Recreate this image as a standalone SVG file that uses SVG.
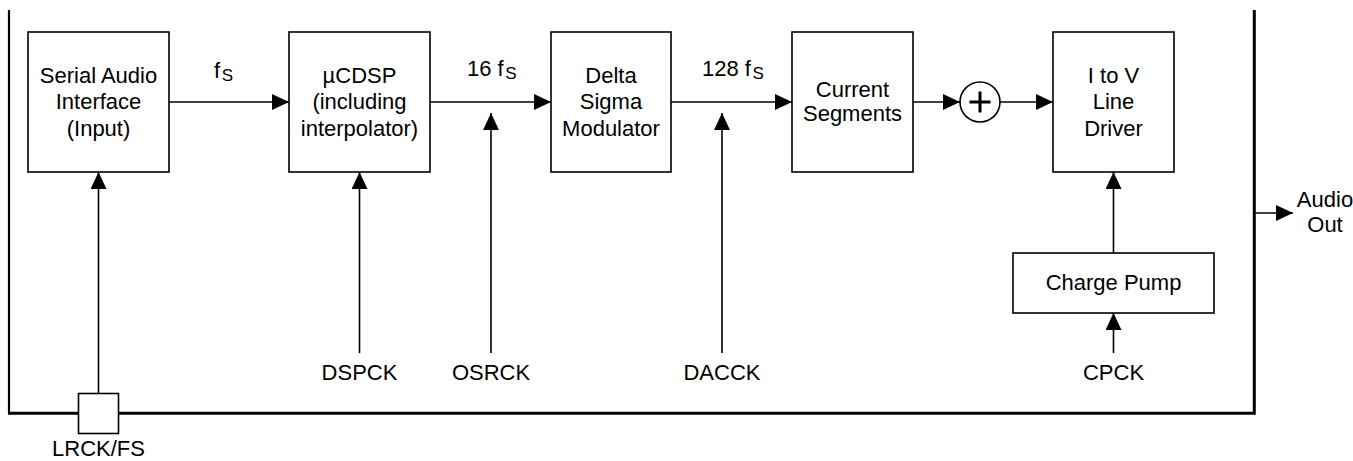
<svg xmlns="http://www.w3.org/2000/svg" width="1353" height="461" viewBox="0 0 1353 461">
<style>
text{font-family:"Liberation Sans",Arial,sans-serif;font-size:22px;fill:#000}
.c{text-anchor:middle}
.sub{font-size:17px}
.box{fill:#fff;stroke:#000;stroke-width:1.6}
.ln{stroke:#000;stroke-width:1.6;fill:none}
.border{stroke:#000;fill:none}
</style>
<defs>
<marker id="ah" markerUnits="userSpaceOnUse" markerWidth="17" markerHeight="16" refX="17" refY="8" orient="auto">
<path d="M0,0 L17,8 L0,16 z" fill="#000"/>
</marker>
</defs>
<g id="border">
<line class="border" x1="9" y1="10" x2="9" y2="413" stroke-width="2.2"/>
<path class="border" d="M8,413.3 H1254.3 V10" stroke-width="3"/>
</g>
<g id="connectors">
<line class="ln" x1="169" y1="102" x2="289" y2="102" marker-end="url(#ah)"/>
<line class="ln" x1="430" y1="102" x2="551" y2="102" marker-end="url(#ah)"/>
<line class="ln" x1="671" y1="102" x2="792" y2="102" marker-end="url(#ah)"/>
<line class="ln" x1="913" y1="102" x2="960" y2="102" marker-end="url(#ah)"/>
<line class="ln" x1="1000" y1="102" x2="1053" y2="102" marker-end="url(#ah)"/>
<line class="ln" x1="98.5" y1="393" x2="98.5" y2="172" marker-end="url(#ah)"/>
<line class="ln" x1="359.5" y1="353" x2="359.5" y2="172" marker-end="url(#ah)"/>
<line class="ln" x1="491" y1="353" x2="491" y2="113" marker-end="url(#ah)"/>
<line class="ln" x1="722" y1="353" x2="722" y2="113" marker-end="url(#ah)"/>
<line class="ln" x1="1113.5" y1="253" x2="1113.5" y2="172" marker-end="url(#ah)"/>
<line class="ln" x1="1113.5" y1="353" x2="1113.5" y2="313" marker-end="url(#ah)"/>
<line class="ln" x1="1254" y1="213" x2="1293" y2="213" marker-end="url(#ah)"/>
<text x="214" y="78">f<tspan class="sub" dx="1.5" dy="2.5">S</tspan></text>
<text x="467" y="76">16 f<tspan class="sub" dx="1.5" dy="2.5">S</tspan></text>
<text x="702" y="76">128 f<tspan class="sub" dx="1.5" dy="2.5">S</tspan></text>
</g>
<g id="serial">
<rect class="box" x="28" y="32" width="141" height="140"/>
<text class="c" x="98.5" y="82.5">Serial Audio</text>
<text class="c" x="98.5" y="109">Interface</text>
<text class="c" x="98.5" y="135.5">(Input)</text>
</g>
<g id="ucdsp">
<rect class="box" x="289" y="32" width="141" height="140"/>
<text class="c" x="359.5" y="82.5">µCDSP</text>
<text class="c" x="359.5" y="109">(including</text>
<text class="c" x="359.5" y="135.5">interpolator)</text>
</g>
<g id="dsm">
<rect class="box" x="551" y="32" width="120" height="140"/>
<text class="c" x="611" y="82.5">Delta</text>
<text class="c" x="611" y="109">Sigma</text>
<text class="c" x="611" y="135.5">Modulator</text>
</g>
<g id="segments">
<rect class="box" x="792" y="32" width="121" height="140"/>
<text class="c" x="852.5" y="96.5">Current</text>
<text class="c" x="852.5" y="121">Segments</text>
</g>
<g id="sum">
<circle cx="980" cy="102" r="20" fill="#fff" stroke="#000" stroke-width="1.6"/>
<path d="M969.5,102 H990.5 M980,91.5 V112.5" stroke="#000" stroke-width="3"/>
</g>
<g id="driver">
<rect class="box" x="1053" y="32" width="121" height="140"/>
<text class="c" x="1113.5" y="82.5">I to V</text>
<text class="c" x="1113.5" y="109">Line</text>
<text class="c" x="1113.5" y="135.5">Driver</text>
</g>
<g id="chargepump">
<rect class="box" x="1013" y="253" width="201" height="60"/>
<text class="c" x="1113.5" y="290">Charge Pump</text>
</g>
<g id="lrck">
<rect class="box" x="78.5" y="393.5" width="40" height="40"/>
<text class="c" x="98.5" y="456">LRCK/FS</text>
</g>
<g id="labels">
<text class="c" x="359.5" y="380">DSPCK</text>
<text class="c" x="491" y="380">OSRCK</text>
<text class="c" x="722" y="380">DACCK</text>
<text class="c" x="1113.5" y="380">CPCK</text>
<text class="c" x="1325" y="207">Audio</text>
<text class="c" x="1325" y="232">Out</text>
</g>
</svg>
